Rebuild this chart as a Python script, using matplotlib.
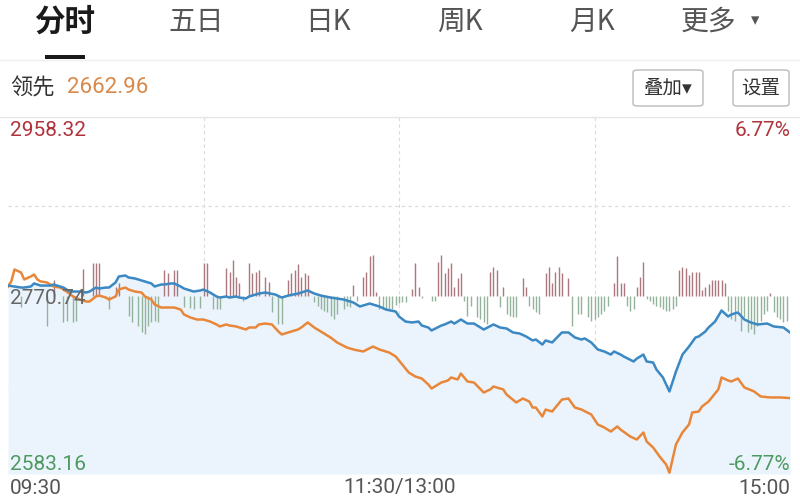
import matplotlib
matplotlib.use("Agg")
import matplotlib.pyplot as plt
from matplotlib.patches import FancyBboxPatch, Rectangle

plt.rcParams["font.family"] = ["Roboto", "Noto Sans CJK SC", "DejaVu Sans"]

PREV_CLOSE = 2770.74
HIGH_LABEL = 2958.32
LOW_LABEL = 2583.16
LEAD_LAST = 2662.96

# minutes since 09:30 (lunch break removed), 0..240
BLUE_MIN = [0, 2, 4, 5, 7, 8, 10, 11, 13, 14, 16, 17, 19, 21, 22, 24, 25, 27, 28, 30,
            31, 33, 34, 36, 37, 39, 41, 42, 44, 45, 47, 48, 50, 51, 53, 54, 56, 57, 59, 60,
            62, 64, 65, 67, 68, 70, 71, 73, 74, 76, 77, 79, 82, 84, 86, 89, 92, 94, 96, 99,
            103, 106, 108, 111, 114, 116, 119, 120, 122, 124, 126, 127, 129, 130, 133, 134,
            136, 137, 139, 141, 143, 146, 149, 151, 153, 155, 157, 159, 161, 162, 164, 165,
            167, 170, 172, 174, 176, 177, 179, 181, 183, 185, 186, 188, 189, 192, 193, 195,
            196, 198, 199, 201, 203, 205, 207, 209, 211, 212, 214, 215, 217, 219, 221, 222,
            224, 226, 228, 230, 233, 235, 238, 240]
BLUE_PRICE = [2781.2, 2780.2, 2779.1, 2779.1, 2780.2, 2783.4, 2781.2, 2781.2, 2781.2, 2782.3,
              2780.2, 2779.1, 2774.9, 2774.9, 2774.9, 2773.9, 2774.9, 2779.1, 2778.1, 2779.1,
              2779.1, 2784.4, 2790.7, 2791.8, 2789.7, 2788.6, 2786.5, 2785.5, 2783.4, 2780.2,
              2782.3, 2782.3, 2783.4, 2783.4, 2780.2, 2778.1, 2776.0, 2774.9, 2776.0, 2777.0,
              2773.9, 2769.7, 2768.6, 2769.7, 2768.6, 2769.7, 2768.6, 2767.6, 2769.7, 2771.8,
              2772.8, 2773.9, 2771.8, 2768.6, 2770.7, 2772.8, 2776.0, 2772.8, 2770.7, 2768.6,
              2766.5, 2763.4, 2759.2, 2762.3, 2759.2, 2756.0, 2753.9, 2748.7, 2743.4, 2742.4,
              2743.4, 2739.2, 2737.1, 2734.0, 2739.2, 2740.3, 2743.4, 2741.3, 2745.5, 2741.3,
              2741.3, 2735.0, 2740.3, 2737.1, 2736.1, 2731.9, 2730.8, 2727.7, 2723.5, 2724.5,
              2719.2, 2723.5, 2721.4, 2731.9, 2731.9, 2726.6, 2724.5, 2725.6, 2721.4, 2714.0,
              2711.9, 2708.7, 2711.9, 2708.7, 2706.6, 2701.4, 2704.5, 2708.7, 2701.4, 2700.3,
              2693.0, 2684.6, 2669.9, 2690.8, 2708.7, 2717.1, 2726.6, 2727.7, 2732.9, 2737.1,
              2743.4, 2755.0, 2748.7, 2750.8, 2752.9, 2745.5, 2742.4, 2740.3, 2741.3, 2738.2,
              2737.1, 2731.9]

LEAD_MIN = [0, 1, 2, 4, 5, 7, 8, 9, 10, 12, 14, 16, 18, 20, 22, 24, 25, 27, 28, 30,
            31, 33, 34, 36, 37, 39, 41, 42, 44, 45, 47, 49, 51, 53, 54, 56, 58, 60, 62, 64,
            65, 67, 68, 70, 71, 73, 74, 76, 77, 79, 81, 83, 84, 87, 89, 90, 92, 94, 96, 99,
            101, 104, 106, 109, 112, 114, 117, 119, 121, 123, 125, 127, 129, 130, 133, 135,
            136, 138, 139, 141, 143, 146, 148, 149, 152, 153, 156, 158, 160, 161, 162, 164,
            165, 167, 170, 172, 174, 176, 179, 181, 183, 185, 187, 188, 191, 193, 195, 196,
            198, 200, 202, 203, 205, 207, 209, 210, 212, 213, 215, 218, 219, 221, 222, 224,
            226, 229, 231, 234, 237, 240]
LEAD_PRICE = [2780.2, 2785.5, 2798.1, 2794.9, 2787.6, 2790.7, 2792.8, 2787.6, 2785.5, 2784.4,
              2780.2, 2779.1, 2774.9, 2769.7, 2766.5, 2764.4, 2764.4, 2769.7, 2770.7, 2768.6,
              2766.5, 2769.7, 2777.0, 2779.1, 2777.0, 2774.9, 2773.9, 2769.7, 2766.5, 2761.3,
              2758.1, 2758.1, 2758.1, 2756.0, 2750.8, 2747.6, 2745.5, 2745.5, 2743.4, 2740.3,
              2738.2, 2740.3, 2739.2, 2738.2, 2737.1, 2735.0, 2737.1, 2737.1, 2740.3, 2741.3,
              2740.3, 2732.9, 2729.8, 2732.9, 2735.0, 2737.1, 2742.4, 2737.1, 2732.9, 2726.6,
              2721.4, 2716.1, 2714.0, 2711.9, 2717.1, 2714.0, 2710.8, 2706.6, 2698.2, 2689.8,
              2685.6, 2683.5, 2677.2, 2673.0, 2679.3, 2681.4, 2684.6, 2682.5, 2688.8, 2680.4,
              2679.3, 2668.8, 2672.0, 2675.1, 2672.0, 2666.7, 2658.3, 2662.5, 2659.3, 2653.0,
              2653.0, 2643.6, 2650.9, 2648.8, 2661.4, 2662.5, 2653.0, 2650.9, 2645.7, 2635.2,
              2632.0, 2627.8, 2633.1, 2629.9, 2622.5, 2619.4, 2626.8, 2617.3, 2611.0, 2601.5,
              2593.1, 2584.5, 2614.2, 2626.8, 2635.2, 2647.8, 2648.8, 2654.1, 2659.3, 2672.0,
              2684.6, 2681.4, 2680.4, 2683.5, 2674.1, 2669.9, 2664.6, 2663.6, 2663.6, 2662.96]

# red/green difference bars (positive = red, negative = green)
BAR_MIN = [4, 12, 14, 17, 18, 20, 21, 23, 26, 27, 28, 31, 33, 34, 37, 38, 40, 41, 42, 43,
           44, 45, 46, 48, 49, 51, 52, 54, 56, 57, 59, 60, 61, 63, 64, 65, 67, 68, 69, 70,
           71, 72, 74, 75, 76, 77, 79, 80, 81, 83, 84, 86, 87, 88, 89, 90, 91, 92, 94, 95,
           96, 97, 98, 99, 100, 101, 103, 104, 105, 106, 107, 109, 110, 111, 112, 113, 114,
           115, 116, 117, 118, 119, 120,
           121, 122, 124, 125, 126, 127, 128, 130, 131, 132, 133, 134, 135, 136, 137, 138,
           139, 140, 141, 142, 144, 145, 146, 147, 148, 149, 150, 151, 152, 153, 154, 155,
           156, 158, 159, 160, 161, 162, 163, 165, 166, 167, 168, 169, 170, 172, 173, 175,
           176, 178, 179, 180, 181, 182, 183, 184, 186, 187, 188, 189, 190, 191, 192, 193,
           194, 195, 196, 197, 198, 199, 200, 201, 202, 203, 204, 205, 206, 207, 208, 209,
           210, 211, 212, 213, 214, 215, 216, 217, 218, 219, 220, 221, 222, 223, 224, 225,
           226, 227, 228, 229, 230, 231, 232, 233, 234, 235, 236, 237, 238, 239]
BAR_VAL = [-12, -31, 16, -27, -26, -27, -26, 27, 33, 33, 33, -14, 9, 13, -21, -27, -31, -37, -39, -31,
           -27, -26, -27, 26, 23, 26, 26, -12, -13, -14, -13, 33, 33, -14, -14, -14, 28, 24, 36, 19,
           13, -6, 33, 23, 24, 26, 19, 14, -17, -29, -29, 16, 23, 26, 32, 19, 23, 21, -7, -11,
           -14, -16, -17, -21, -24, -19, -14, -11, -12, 11, -6, 19, 24, 40, 41, 4, -14,
           -14, -14, -14, -14, -10, -8,
           -7, -7, 7, 33, 9, -3, -1, -6, -6, 34, 41, 23, 28, 33, 9, 18,
           23, -6, -21, -11, -22, -24, -27, -29, 24, 29, 26, -12, 9, -19, -21, -22,
           -22, 18, 9, -11, -14, -17, -19, 23, 29, 13, 24, 29, 23, 18, -31, -19,
           -19, -22, -26, -24, -22, -19, -16, -11, 13, 40, 13, 13, -11, -16, -14, 9,
           19, 34, -4, -6, -9, -11, -12, -14, -16, -16, -14, -11, 26, 29, 28, 21,
           24, 24, 24, 6, 9, 12, 16, 16, 16, 16, 13, -16, -24, -26, -16, -36,
           -22, -37, -34, -39, -31, -26, -19, -16, 3, -17, -22, -24, -27, -26]
BAR_SCALE = 1.05  # price points per bar unit

TABS = ["五日", "日K", "周K", "月K", "更多"]
TAB_X = [196, 328, 460, 592, 708]

BLUE = "#3B88C3"
ORANGE = "#E8873A"
FILL = "#EBF4FC"
RED_BAR = "#AC7880"
GREEN_BAR = "#93B39C"
RED_TXT = "#B0333C"
GREEN_TXT = "#4E9A60"

W, H = 800, 500


def fx(px):
    return px / W


def fy(py):
    return 1 - py / H


fig = plt.figure(figsize=(8, 5), dpi=100)
fig.patch.set_facecolor("white")

ax = fig.add_axes([fx(8), fy(474), fx(790) - fx(8), fy(117) - fy(474)])
ax.set_xlim(0, 240)
ax.set_ylim(LOW_LABEL, HIGH_LABEL)
ax.axis("off")

# grid
for xv in (60, 120, 180):
    ax.axvline(xv, color="#DADADA", lw=0.8, ls=(0, (3, 3)), zorder=0.5)
for yv in (PREV_CLOSE + (HIGH_LABEL - PREV_CLOSE) / 2, PREV_CLOSE - (PREV_CLOSE - LOW_LABEL) / 2):
    ax.axhline(yv, color="#DADADA", lw=0.8, ls=(0, (3, 3)), zorder=0.5)

ax.fill_between(BLUE_MIN, BLUE_PRICE, LOW_LABEL, color=FILL, lw=0, zorder=1)

bar_tops = [PREV_CLOSE + v * BAR_SCALE for v in BAR_VAL]
bar_cols = [RED_BAR if v > 0 else GREEN_BAR for v in BAR_VAL]
ax.vlines(BAR_MIN, PREV_CLOSE, bar_tops, colors=bar_cols, lw=1.0, zorder=2)

ax.plot(LEAD_MIN, LEAD_PRICE, color=ORANGE, lw=1.8, zorder=3)
ax.plot(BLUE_MIN, BLUE_PRICE, color=BLUE, lw=1.8, zorder=3)

# frame lines
fig.add_artist(plt.Line2D([0, 1], [fy(117), fy(117)], color="#E6E6E6", lw=1.0))
fig.add_artist(plt.Line2D([0, 1], [fy(60), fy(60)], color="#EFEFEF", lw=1.0))

num = dict(family=["Roboto", "DejaVu Sans"], fontsize=15)
fig.text(fx(10), fy(130), f"{HIGH_LABEL:.2f}", color=RED_TXT, va="center", ha="left", **num)
fig.text(fx(790), fy(130), "6.77%", color=RED_TXT, va="center", ha="right", **num)
fig.text(fx(10), fy(298), f"{PREV_CLOSE:.2f}", color="#666666", va="center", ha="left", zorder=5, **num)
fig.text(fx(10), fy(465), f"{LOW_LABEL:.2f}", color=GREEN_TXT, va="center", ha="left", **num)
fig.text(fx(790), fy(465), "-6.77%", color=GREEN_TXT, va="center", ha="right", **num)
fig.text(fx(10), fy(488), "09:30", color="#555555", va="center", ha="left", **num)
fig.text(fx(400), fy(488), "11:30/13:00", color="#555555", va="center", ha="center", **num)
fig.text(fx(790), fy(488), "15:00", color="#555555", va="center", ha="right", **num)

# header tabs
cjk = ["Noto Sans CJK SC", "DejaVu Sans"]
fig.text(fx(65), fy(22), "分时", family=cjk, fontsize=22, fontweight="bold",
         color="#1A1A1A", ha="center", va="center")
fig.add_artist(Rectangle((fx(45), fy(59)), fx(40), 4 / H, color="#1A1A1A", lw=0))
for label, xc in zip(TABS, TAB_X):
    fig.text(fx(xc), fy(22), label, family=cjk, fontsize=20, color="#555555",
             ha="center", va="center")
fig.text(fx(755), fy(20), "▾", family=["DejaVu Sans"], fontsize=12, color="#555555",
         ha="center", va="center")

fig.text(fx(10), fy(88), "领先", family=cjk, fontsize=16, color="#333333", ha="left", va="center")
fig.text(fx(67), fy(88), f"{LEAD_LAST:.2f}", family=["Roboto", "DejaVu Sans"], fontsize=16,
         color="#D8894A", ha="left", va="center")

for (x0, x1, label) in ((633, 703, "叠加▾"), (733, 789, "设置")):
    box = FancyBboxPatch((fx(x0), fy(106)), fx(x1 - x0), 36 / H,
                         boxstyle="round,pad=0,rounding_size=0.005",
                         fc="white", ec="#BBBBBB", lw=1.0, transform=fig.transFigure)
    fig.add_artist(box)
    fig.text(fx((x0 + x1) / 2), fy(88), label, family=cjk, fontsize=14,
             color="#333333", ha="center", va="center")

fig.savefig("out.png", dpi=100)
